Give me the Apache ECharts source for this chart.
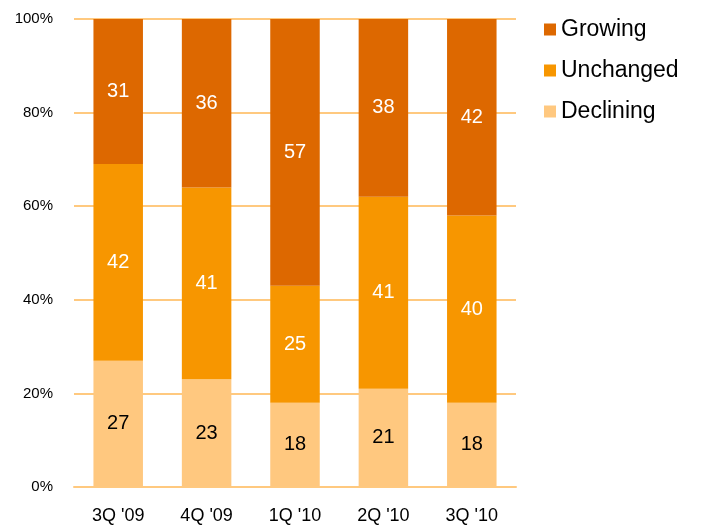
<!DOCTYPE html>
<html>
<head>
<meta charset="utf-8">
<script src="https://cdn.jsdelivr.net/npm/echarts@6/dist/echarts.min.js"></script>
<style>
html,body{margin:0;padding:0;background:#fff;}
#main{width:703px;height:525px;}
</style>
</head>
<body>
<div id="main"></div>
<script>
// quarters along the x axis
var quarters = ["3Q '09", "4Q '09", "1Q '10", "2Q '10", "3Q '10"];
// percent shares per quarter
var growing = [31, 36, 57, 38, 42];
var unchanged = [42, 41, 25, 41, 40];
var declining = [27, 23, 18, 21, 18];
var yTicks = [0, 20, 40, 60, 80, 100];

var font = "Liberation Sans, Arial, sans-serif";

function makeSeries(name, data, color, labelColor) {
	return {
		name: name,
		type: 'bar',
		stack: 'all',
		barWidth: '56%',
		data: data,
		itemStyle: {color: color},
		label: {
			show: true,
			position: 'inside',
			color: labelColor,
			fontSize: 20,
			fontFamily: font
		}
	};
}

var myChart = echarts.init(document.getElementById('main'));
var option = {
	animation: false,
	legend: {
		orient: 'vertical',
		left: 539,
		top: 13,
		itemWidth: 12,
		itemHeight: 12,
		itemGap: 18,
		icon: 'rect',
		textStyle: {fontSize: 23, lineHeight: 23, color: '#000', fontFamily: font},
		data: ['Growing', 'Unchanged', 'Declining']
	},
	grid: {left: 74, right: 187, top: 19, bottom: 37, containLabel: false},
	xAxis: {
		type: 'category',
		data: quarters,
		axisLine: {lineStyle: {color: '#FFC97F', width: 2}},
		axisTick: {show: false},
		axisLabel: {color: '#000', fontSize: 18, fontFamily: font, margin: 20}
	},
	yAxis: {
		type: 'value',
		min: yTicks[0],
		max: yTicks[yTicks.length - 1],
		interval: 20,
		axisLine: {show: false},
		axisTick: {show: false},
		splitLine: {lineStyle: {color: '#FFC97F', width: 2}},
		axisLabel: {color: '#000', fontSize: 15, fontFamily: font, margin: 21, formatter: '{value}%'}
	},
	series: [
		makeSeries('Declining', declining, '#FFC87F', '#000'),
		makeSeries('Unchanged', unchanged, '#F79600', '#fff'),
		makeSeries('Growing', growing, '#DD6800', '#fff')
	]
};
myChart.setOption(option);
</script>
</body>
</html>
